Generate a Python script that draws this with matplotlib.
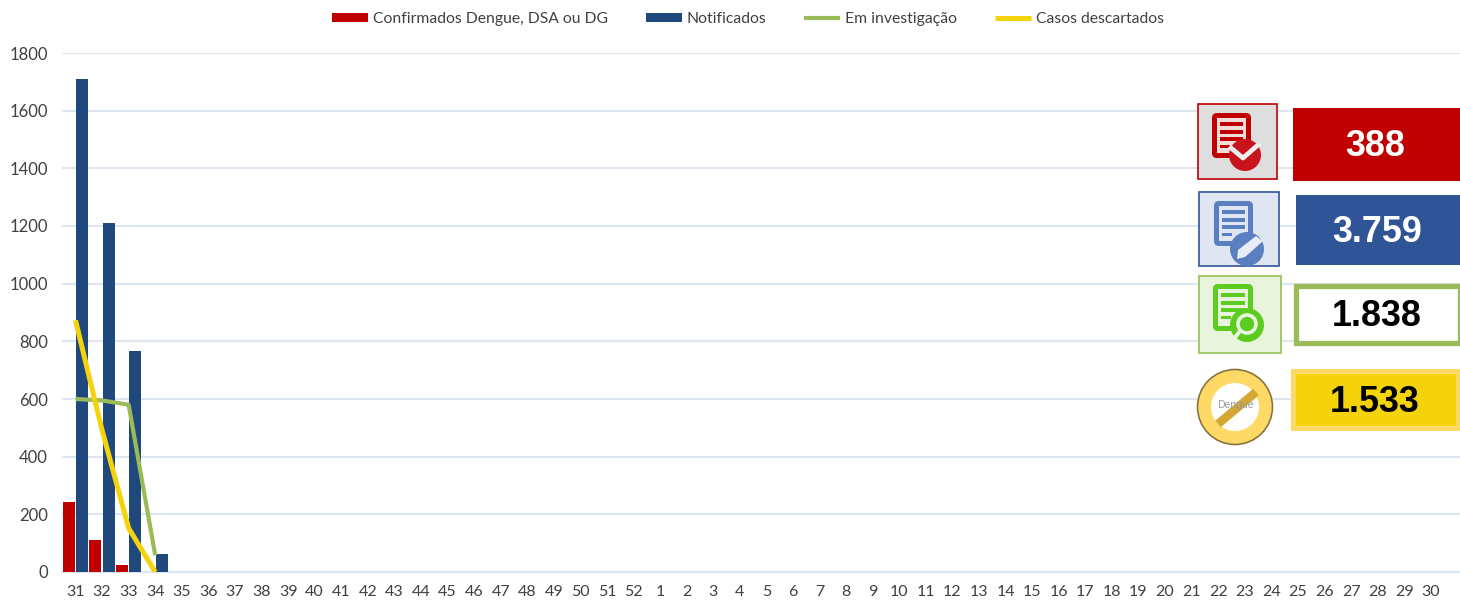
import matplotlib
matplotlib.use("Agg")
import matplotlib.pyplot as plt
from matplotlib.patches import Rectangle, Circle, FancyBboxPatch, Polygon

weeks = [str(w) for w in list(range(31, 53)) + list(range(1, 31))]
confirmados = [243, 110, 25]
notificados = [1710, 1210, 765, 62]
investigacao = [600, 595, 580, 58]
descartados = [873, 492, 152, 0]
yticks = [0, 200, 400, 600, 800, 1000, 1200, 1400, 1600, 1800]
labels = ["Confirmados Dengue, DSA ou DG", "Notificados", "Em investigação", "Casos descartados"]
totals = ["388", "3.759", "1.838", "1.533"]

RED, NAVY, GREEN, YELLOW = "#c00000", "#1f497d", "#9bbb59", "#f5d30a"
TXT = "#404040"
W, H = 1460, 600
plt.rcParams["font.family"] = ["Lato", "DejaVu Sans"]

fig = plt.figure(figsize=(W / 100, H / 100), dpi=100, facecolor="white")
ax = fig.add_axes([62 / W, (H - 572) / H, (W - 62) / W, (572 - 53) / H])
x = range(len(weeks))
bw = 0.46
h1 = ax.bar([i - 0.255 for i in range(len(confirmados))], confirmados, bw, color=RED, zorder=3, label=labels[0])
h2 = ax.bar([i + 0.25 for i in range(len(notificados))], notificados, bw, color=NAVY, zorder=3, label=labels[1])
h3, = ax.plot(range(len(investigacao)), investigacao, color=GREEN, lw=3, zorder=4, label=labels[2], solid_capstyle="butt")
h4, = ax.plot(range(len(descartados)), descartados, color=YELLOW, lw=3.6, zorder=5, label=labels[3], solid_capstyle="butt")
ax.set_xlim(-0.508, 52.1)
ax.set_ylim(0, 1800)
ax.set_xticks(list(x))
ax.set_xticklabels(weeks, fontsize=11.5, color=TXT)
ax.set_yticks(yticks)
ax.tick_params(axis="y", length=0, pad=10, labelsize=12, labelcolor=TXT)
ax.tick_params(axis="x", length=0, pad=9.5)
ax.grid(axis="y", color="#dce6f1", lw=1.5, zorder=0)
ax.set_axisbelow(True)
for s in ["top", "right", "left"]:
    ax.spines[s].set_visible(False)
ax.spines["bottom"].set_color("#dce6f1")
ax.spines["bottom"].set_linewidth(1.5)
ax.patch.set_alpha(0)

leg = fig.legend(handles=[h1, h2, h3, h4], labels=labels, ncol=4, frameon=False,
                 loc="center", bbox_to_anchor=(748 / W, 1 - 19 / H), fontsize=11.3,
                 labelcolor=TXT, handlelength=2.3, handleheight=0.45, handletextpad=0.32,
                 columnspacing=2.4, borderpad=0, borderaxespad=0)

ov = fig.add_axes([0, 0, 1, 1])
ov.set_xlim(0, W)
ov.set_ylim(H, 0)
ov.axis("off")
ov.patch.set_alpha(0)


def rect(x0, y0, x1, y1, fc, ec="none", lw=0, z=2):
    ov.add_patch(Rectangle((x0, y0), x1 - x0, y1 - y0, fc=fc, ec=ec, lw=lw, zorder=z))


def doc(x0, y0, x1, y1, col, paper, lines):
    ov.add_patch(FancyBboxPatch((x0 + 3, y0 + 3), x1 - x0 - 6, y1 - y0 - 6,
                                boxstyle="round,pad=3,rounding_size=5", fc=col, ec="none", zorder=3))
    rect(x0 + 5, y0 + 5, x1 - 5, y1 - 5, paper, z=4)
    for k in range(3):
        yy = y0 + 9 + k * 7.5
        rect(x0 + 8, yy, x1 - 8, yy + 4, lines, z=5)
    rect(x0 + 8, y0 + 31.5, x0 + 18, y0 + 35, lines, z=5)


# red
rect(1197.5, 104, 1277, 179, "#dedede", RED, 1.2)
doc(1212, 113, 1251, 158, RED, "#f0dcd8", RED)
ov.add_patch(Circle((1245, 155), 16, fc="#c8141c", ec="none", zorder=6))
ov.plot([1231, 1243, 1258], [148, 158, 145], color="#eeeeee", lw=3.4, zorder=7)
rect(1293, 108, 1459.5, 181, RED)
ov.text(1375, 147, totals[0], color="white", fontsize=25.8, fontweight="bold",
        family="Liberation Sans", ha="center", va="center", zorder=5)

# blue
rect(1199, 192, 1279, 266, "#dfe6f2", "#2f5597", 1.2)
doc(1214, 201, 1253, 246, "#5a7fc0", "#dfe6f2", "#5a7fc0")
ov.add_patch(Circle((1247, 249), 17, fc="#5a7fc0", ec="none", zorder=6))
ov.add_patch(Polygon([(1238, 250), (1256, 236), (1263, 241), (1245, 257), (1237, 259)],
                     fc="#e8ecf4", ec="none", zorder=7))
rect(1296, 195, 1460, 265, "#2f5597")
ov.text(1377, 233, totals[1], color="white", fontsize=25.8, fontweight="bold",
        family="Liberation Sans", ha="center", va="center", zorder=5)

# green
rect(1198.5, 276, 1281, 353, "#e8f5dc", "#a2c96a", 1.4)
doc(1213, 284, 1253, 331, "#5dcc20", "#e8f5dc", "#5dcc20")
ov.add_patch(Circle((1247, 325), 17, fc="#5dcc20", ec="none", zorder=6))
ov.add_patch(Circle((1247, 324), 9, fc="#5dcc20", ec="#e8f5dc", lw=2.6, zorder=7))
ov.plot([1233, 1240], [340, 331], color="#e8f5dc", lw=2.8, zorder=7)
rect(1296, 286, 1460, 343, "white", GREEN, 3.8)
ov.text(1377, 316, totals[2], color="black", fontsize=25.8, fontweight="bold",
        family="Liberation Sans", ha="center", va="center", zorder=5)

# yellow
ov.add_patch(Circle((1235, 407), 37.5, fc="#ffd966", ec="#8a7440", lw=1.2, zorder=3))
ov.add_patch(Circle((1235, 407), 24, fc="white", ec="none", zorder=4))
ov.plot([1218, 1256], [424, 392], color="#d4a832", lw=6.2, zorder=5, solid_capstyle="butt")
ov.text(1235, 405.5, "Dengue", color="#999999", fontsize=7.5, family="Liberation Sans",
        ha="center", va="center", zorder=6)
rect(1291, 369, 1460, 431, "#ffd966")
rect(1296, 374, 1456, 426, "#f5d30a", z=3)
ov.text(1375, 402, totals[3], color="black", fontsize=25.8, fontweight="bold",
        family="Liberation Sans", ha="center", va="center", zorder=5)

fig.savefig("out.png", dpi=100, facecolor="white")
